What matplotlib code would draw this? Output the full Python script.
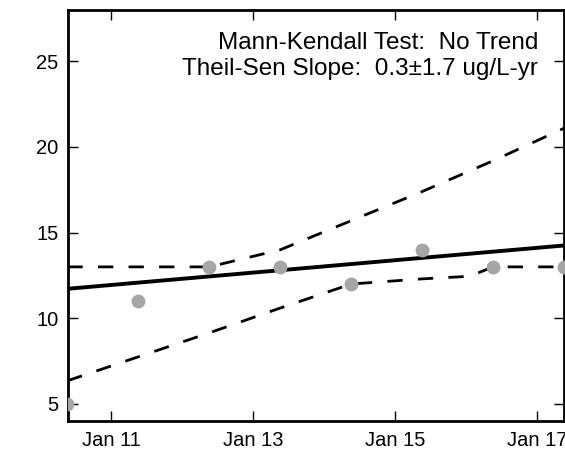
import datetime as dt
import matplotlib
matplotlib.use("Agg")
import matplotlib.pyplot as plt
import matplotlib.dates as mdates

plt.rcParams['font.family'] = ['Liberation Sans', 'DejaVu Sans']

# yearly samples
dates = [dt.date(y, 5, 22) for y in range(2010, 2018)]
conc = [5, 11, 13, 13, 12, 14, 13, 13]

# Theil-Sen line end points
trend_dates = [dt.date(2010, 5, 22), dt.date(2017, 5, 22)]
trend_vals = [11.72, 14.25]

# confidence bounds
upper_dates = dates
upper_vals = [13.0, 13.0, 13.0, 14.0, 15.7, 17.4, 19.2, 21.1]
lower_dates = dates[:6] + [dt.date(2016, 1, 20)] + dates[6:]
lower_vals = [6.35, 7.75, 9.15, 10.6, 12.0, 12.3, 12.45, 13.0, 13.0]

xtick_dates = [dt.date(y, 1, 1) for y in (2011, 2013, 2015, 2017)]
yticks = [5, 10, 15, 20, 25]

fig = plt.figure(figsize=(5.65, 4.53), dpi=100)
ax = fig.add_axes([0.1204, 0.0706, 0.8776, 0.9074])

ax.plot(upper_dates, upper_vals, color='black', lw=2.0, ls=(0, (5.5, 5.5)), zorder=2)
ax.plot(lower_dates, lower_vals, color='black', lw=2.0, ls=(0, (5.5, 5.5)), zorder=2)
ax.plot(trend_dates, trend_vals, color='black', lw=2.8, zorder=3)
ax.plot(dates, conc, 'o', color='#a6a6a6', ms=10, mec='none', zorder=4)

ax.set_xlim(dt.date(2010, 5, 25), dt.date(2017, 5, 20))
ax.set_ylim(4, 28)
ax.set_yticks(yticks)
ax.set_xticks(xtick_dates)
ax.xaxis.set_major_formatter(mdates.DateFormatter('%b %y'))

ax.tick_params(direction='in', length=7.5, width=1, top=True, right=True,
               labelsize=14.5, pad=7)
for s in ax.spines.values():
    s.set_linewidth(2)

ax.text(0.948, 0.947, "Mann-Kendall Test:  No Trend\nTheil-Sen Slope:  0.3\u00b11.7 ug/L-yr",
        transform=ax.transAxes, ha='right', va='top', fontsize=17.5,
        multialignment='right', linespacing=1.25)

fig.savefig('out.png', dpi=100)
